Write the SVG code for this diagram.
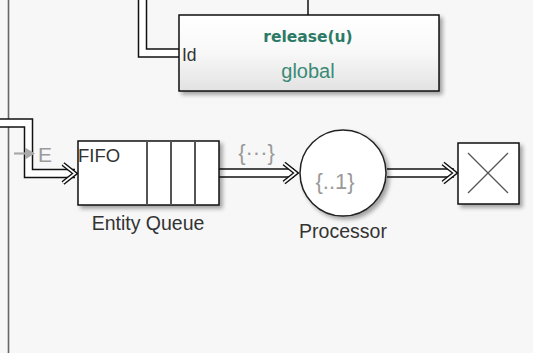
<svg xmlns="http://www.w3.org/2000/svg" width="533" height="353" viewBox="0 0 533 353">
<defs>
<linearGradient id="gr" x1="0" y1="0" x2="0" y2="1">
<stop offset="0" stop-color="#ffffff"/>
<stop offset="0.5" stop-color="#f8f8f8"/>
<stop offset="1" stop-color="#e2e2e2"/>
</linearGradient>
<filter id="sh" x="-10%" y="-10%" width="130%" height="140%">
<feGaussianBlur in="SourceAlpha" stdDeviation="2"/>
<feOffset dx="3" dy="3" result="b"/>
<feComponentTransfer><feFuncA type="linear" slope="0.35"/></feComponentTransfer>
<feMerge><feMergeNode/><feMergeNode in="SourceGraphic"/></feMerge>
</filter>
</defs>
<style>
.outer{fill:none;stroke:#111;stroke-width:9.5;stroke-linejoin:miter}
.inner{fill:none;stroke:#fff;stroke-width:6.5;stroke-linejoin:miter}
.cho{fill:none;stroke:#111;stroke-width:4.5;stroke-linejoin:miter}
.chi{fill:none;stroke:#fff;stroke-width:1.6;stroke-linejoin:miter}
.lbl{font-family:"Liberation Sans",Arial,sans-serif;fill:#333}
.gray{font-family:"Liberation Sans",Arial,sans-serif;fill:#9a9a9a}
.blk{stroke:#111;stroke-width:1.5}
</style>
<rect x="0" y="0" width="533" height="353" fill="#f7f7f7"/>
<g id="connectors">
<line x1="8.5" y1="0" x2="8.5" y2="353" stroke="#666" stroke-width="1.6"/>
<line x1="308" y1="0" x2="308" y2="15" stroke="#111" stroke-width="1.5"/>
<path class="outer" d="M142.5,0 V53 H179"/>
<path class="inner" d="M142.5,0 V53 H179"/>
<path class="outer" d="M0,123 H28.5 V173.5 H75"/>
<path class="inner" d="M0,123 H28.5 V173.5 H76"/>
<path class="cho" d="M63,164 L75,173.5 L63,183"/>
<path class="chi" d="M63,164 L75,173.5 L63,183"/>
<path class="outer" d="M219,173 H294"/>
<path class="inner" d="M219,173 H295"/>
<path class="cho" d="M284,163.5 L296,173 L284,182.5"/>
<path class="chi" d="M284,163.5 L296,173 L284,182.5"/>
<path class="outer" d="M387,173 H454"/>
<path class="inner" d="M387,173 H455"/>
<path class="cho" d="M443,163.5 L455,173 L443,182.5"/>
<path class="chi" d="M443,163.5 L455,173 L443,182.5"/>
</g>
<g id="release">
<rect x="179" y="15" width="260" height="76" fill="url(#gr)" class="blk" filter="url(#sh)"/>
<text x="308" y="42" text-anchor="middle" font-family="'DejaVu Sans',Verdana,sans-serif" font-weight="bold" font-size="15.5" fill="#2b7a66">release(u)</text>
<text x="308" y="78" text-anchor="middle" font-family="'Liberation Sans',Arial,sans-serif" font-size="20" fill="#3a8a76">global</text>
<text x="182" y="61" class="lbl" font-size="17.5">Id</text>
</g>
<g id="entity-queue">
<rect x="78" y="141" width="141" height="64" fill="#fff" class="blk" filter="url(#sh)"/>
<line x1="147" y1="141" x2="147" y2="205" stroke="#555" stroke-width="2"/>
<line x1="171" y1="141" x2="171" y2="205" stroke="#555" stroke-width="2"/>
<line x1="195" y1="141" x2="195" y2="205" stroke="#555" stroke-width="2"/>
<text x="78" y="162" class="lbl" font-size="18.5" fill="#111">FIFO</text>
<text x="148" y="230" text-anchor="middle" class="lbl" font-size="19.5">Entity Queue</text>
<line x1="14" y1="153.5" x2="28" y2="153.5" stroke="#aaa" stroke-width="2.2"/>
<path d="M25,147.5 L35,153.5 L25,159.5 Z" fill="#aaa"/>
<text x="38" y="161.5" class="gray" font-size="21" fill="#aaa">E</text>
<text x="256.5" y="160" text-anchor="middle" class="gray" font-size="22">{···}</text>
</g>
<g id="processor">
<circle cx="343" cy="173" r="43" fill="#fff" stroke="#222" stroke-width="1.5" filter="url(#sh)"/>
<text x="335" y="189" text-anchor="middle" class="gray" font-size="22" fill="#999">{..1}</text>
<text x="343" y="238" text-anchor="middle" class="lbl" font-size="19.5">Processor</text>
</g>
<g id="sink">
<rect x="458" y="143" width="61" height="61" fill="#fff" class="blk" filter="url(#sh)"/>
<line x1="468" y1="153" x2="508" y2="193" stroke="#555" stroke-width="1.3"/>
<line x1="508" y1="153" x2="468" y2="193" stroke="#555" stroke-width="1.3"/>
</g>
</svg>
